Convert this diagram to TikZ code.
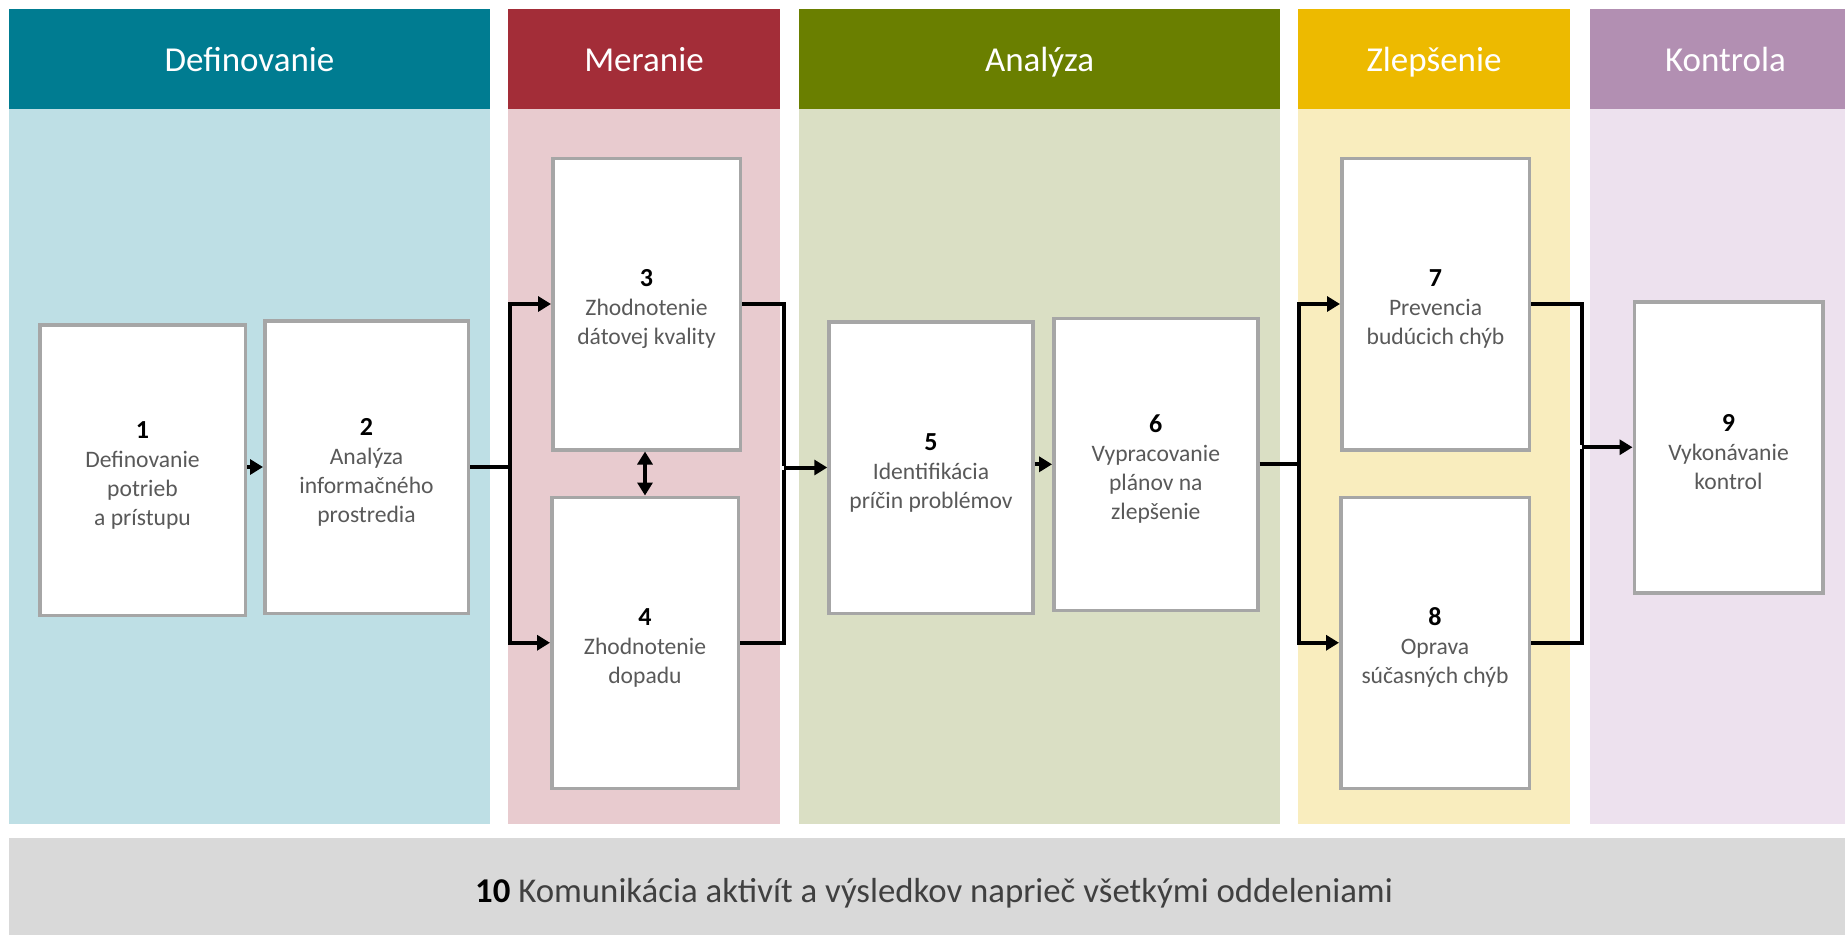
\documentclass[tikz,border=0pt]{standalone}
\usepackage{fontspec}
\setmainfont{Carlito}
\usetikzlibrary{arrows.meta}
\definecolor{cA}{HTML}{007C91}\definecolor{cAl}{HTML}{BEDFE5}
\definecolor{cB}{HTML}{A32D38}\definecolor{cBl}{HTML}{E8CBCF}
\definecolor{cC}{HTML}{6A7F00}\definecolor{cCl}{HTML}{DADFC4}
\definecolor{cD}{HTML}{EDBA00}\definecolor{cDl}{HTML}{F9EDBE}
\definecolor{cE}{HTML}{B28FB2}\definecolor{cEl}{HTML}{EDE1EE}
\definecolor{barcol}{HTML}{D9D9D9}
\definecolor{boxgray}{HTML}{A6A6A6}
\definecolor{txtgray}{HTML}{595959}
\definecolor{bottomtxt}{HTML}{404040}
\tikzset{
  hdr/.style={anchor=north west, inner sep=0pt, outer sep=0pt, text=white, minimum height=100pt, text height=24pt, text depth=0pt, font=\fontsize{35}{41}\selectfont},
  band/.style={anchor=north west, inner sep=0pt, outer sep=0pt, minimum height=715pt},
  stepbox/.style={draw=boxgray, line width=3.5pt, fill=white, align=center, inner sep=0pt, text=txtgray, font=\fontsize{23.6}{29}\selectfont},
  conn/.style={line width=4pt, black},
  arr/.style={conn, -{Triangle[length=13pt,width=15pt]}},
  dbl/.style={conn, {Triangle[length=13pt,width=15pt]}-{Triangle[length=13pt,width=15pt]}},
}
\newcommand{\nr}[1]{\rule{0pt}{27pt}\textcolor{black}{\fontsize{26}{29}\selectfont\textbf{#1}}}
\begin{document}
\begin{tikzpicture}[x=1pt,y=-1pt]
\useasboundingbox (0,0) rectangle (1845,935);
% headers
\node[hdr, fill=cA, minimum width=481pt] (hA) at (9,9) {Definovanie};
\node[hdr, fill=cB, minimum width=272pt] (hB) at (508,9) {Meranie};
\node[hdr, fill=cC, minimum width=481pt] (hC) at (799,9) {Analýza};
\node[hdr, fill=cD, minimum width=272pt] (hD) at (1298,9) {Zlepšenie};
\node[hdr, fill=cE, minimum width=271pt] (hE) at (1590,9) {Kontrola};
% bands
\node[band, fill=cAl, minimum width=481pt] (pA) at (9,109) {};
\node[band, fill=cBl, minimum width=272pt] (pB) at (508,109) {};
\node[band, fill=cCl, minimum width=481pt] (pC) at (799,109) {};
\node[band, fill=cDl, minimum width=272pt] (pD) at (1298,109) {};
\node[band, fill=cEl, minimum width=271pt] (pE) at (1590,109) {};
% bottom bar
\node[anchor=north west, fill=barcol, inner sep=0pt, outer sep=0pt, minimum width=1852pt, minimum height=97pt] (bar) at (9,838) {};
\node[text=bottomtxt, font=\fontsize{34.8}{40}\selectfont, inner sep=0pt] (t10) at (934,893) {\textcolor{black}{\textbf{10}} Komunikácia aktivít a výsledkov naprieč všetkými oddeleniami};
% step boxes
\node[stepbox, minimum width=205.5pt, minimum height=290.5pt] (b1) at (142.5,470) {\nr{1}\\Definovanie\\potrieb\\a prístupu};
\node[stepbox, minimum width=203.5pt, minimum height=292.5pt] (b2) at (366.5,467) {\nr{2}\\Analýza\\informačného\\prostredia};
\node[stepbox, minimum width=187.5pt, minimum height=291.5pt] (b3) at (646.5,304) {\nr{3}\\Zhodnotenie\\dátovej kvality};
\node[stepbox, minimum width=186.5pt, minimum height=291pt] (b4) at (645,642.75) {\nr{4}\\Zhodnotenie\\dopadu};
\node[stepbox, minimum width=204pt, minimum height=291.5pt] (b5) at (931,467.5) {\nr{5}\\Identifikácia\\príčin problémov};
\node[stepbox, minimum width=204pt, minimum height=292pt] (b6) at (1155.8,464.3) {\nr{6}\\Vypracovanie\\plánov na\\zlepšenie};
\node[stepbox, minimum width=187.5pt, minimum height=291.5pt] (b7) at (1435.5,304) {\nr{7}\\Prevencia\\budúcich chýb};
\node[stepbox, minimum width=188.5pt, minimum height=291pt] (b8) at (1435,642.75) {\nr{8}\\Oprava\\súčasných chýb};
\node[stepbox, minimum width=188.5pt, minimum height=291pt] (b9) at (1728.5,447.25) {\nr{9}\\Vykonávanie\\kontrol};
% junctions
\coordinate (j1) at (510,467);
\coordinate (j2) at (784,467.5);
\coordinate (j3) at (1299,464.3);
\coordinate (j4) at (1581.7,447.25);
% connectors
\draw[arr] (b1.east |- b2.west) -- (b2.west);
\draw[conn] (b2.east) -- (j1);
\draw[arr] ([yshift=-2pt]j1) |- (b3.west);
\draw[arr] ([yshift=2pt]j1) |- (b4.west);
\draw[dbl] (b3.south -| 645,0) -- (b4.north);
\draw[conn] (b3.east) -| ([yshift=2pt]j2);
\draw[conn] (b4.east) -| ([yshift=-2pt]j2);
\draw[arr] (j2) -- (b5.west);
\draw[arr] (b5.east |- b6.west) -- (b6.west);
\draw[conn] (b6.east) -- (j3);
\draw[arr] ([yshift=-2pt]j3) |- (b7.west);
\draw[arr] ([yshift=2pt]j3) |- (b8.west);
\draw[conn] (b7.east) -| ([yshift=2pt]j4);
\draw[conn] (b8.east) -| ([yshift=-2pt]j4);
\draw[arr] (j4) -- (b9.west);
\end{tikzpicture}
\end{document}
